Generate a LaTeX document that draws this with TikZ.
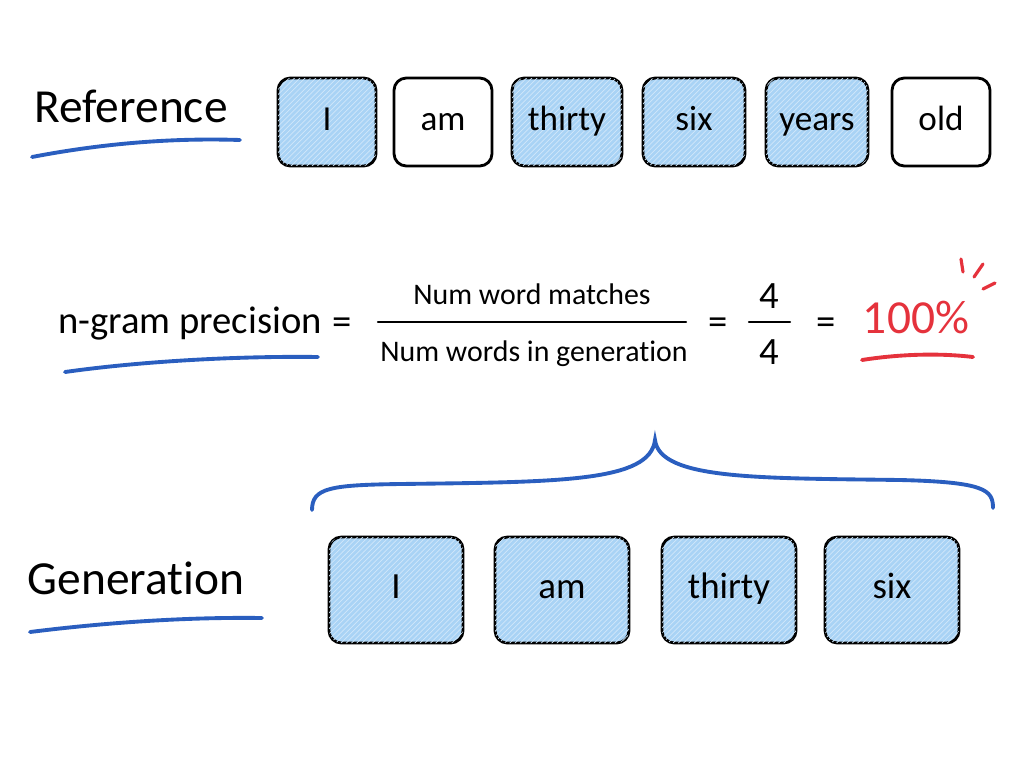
\documentclass[tikz,border=0pt]{standalone}
\usepackage{fontspec}
\setmainfont{Carlito}[Ligatures=NoCommon]
\usetikzlibrary{positioning,patterns}
\definecolor{wordblue}{HTML}{A9D3F5}
\definecolor{penblue}{HTML}{2A5EBF}
\definecolor{penred}{HTML}{E5323C}

\begin{document}
\begin{tikzpicture}[
            x=0.02cm, y=-0.02cm,
            wordbox/.style={draw, line width=1.6pt, rounded corners=7pt, minimum width=1.96cm, minimum height=1.76cm, text height=14pt, text depth=4pt, font=\fontsize{20}{24}\selectfont},
            match/.style={fill=wordblue, postaction={pattern=north east lines, pattern color=white!45!wordblue}},
            genbox/.style={wordbox, match, minimum width=2.68cm, minimum height=2.12cm, font=\fontsize{21}{25}\selectfont},
            title/.style={font=\fontsize{27}{31}\selectfont},
            formula/.style={font=\fontsize{17}{20}\selectfont},
            bigsym/.style={font=\fontsize{22}{26}\selectfont},
            pen/.style={line width=2.2pt, line cap=round, penblue}
            ]
        \fill[white] (0,0) rectangle (1024,768);
        \useasboundingbox (0,0) rectangle (1024,768);

        % reference sentence
        \node[title] (reflabel) at (131,106) {Reference};
        \draw[pen] (32,157) .. controls (110,142) and (180,138) .. (240,140);
        \node[wordbox, match] (r1) at (327,122) {I};
        \node[wordbox] (r2) at (443,122) {am};
        \node[wordbox, match, minimum width=2.2cm] (r3) at (567,122) {thirty};
        \node[wordbox, match, minimum width=2.04cm] (r4) at (694,122) {six};
        \node[wordbox, match, minimum width=2.04cm] (r5) at (817,122) {years};
        \node[wordbox] (r6) at (941,122) {old};

        % precision formula
        \node[bigsym] (ngram) at (190,324) {n-gram precision};
        \draw[pen] (65,372) .. controls (150,360) and (250,356) .. (318,357);
        \node[bigsym] (eq1) at (342,326) {=};
        \node[formula] (num) at (532,294) {Num word matches};
        \node[formula] (den) at (534,354) {Num words in generation};
        \draw[line width=1.3pt, line cap=round] (378,322) -- (686,322);
        \node[bigsym] (eq2) at (718,326) {=};
        \node[bigsym] (n4) at (769,296) {4};
        \node[bigsym] (d4) at (769,352) {4};
        \draw[line width=1.3pt, line cap=round] (749,322) -- (790,322);
        \node[bigsym] (eq3) at (826,326) {=};
        \node[penred, font=\fontsize{27}{30}\selectfont] (pct) at (916,318) {100\%};
        \draw[line width=2.2pt, line cap=round, penred] (862,360) .. controls (900,354) and (940,353) .. (973,357);
        \draw[line width=1.8pt, line cap=round, penred] (961,259) -- (963,272);
        \draw[line width=1.8pt, line cap=round, penred] (983,264) -- (974,277);
        \draw[line width=1.8pt, line cap=round, penred] (995,283) -- (983,289);

        % brace over the generation
        \draw[pen] (312,510) .. controls (312,488) and (330,485) .. (400,484)
            .. controls (560,482) and (650,482) .. (655,440)
            .. controls (660,480) and (760,478) .. (900,480)
            .. controls (985,482) and (993,490) .. (993,508);

        % generated sentence
        \node[title] (genlabel) at (136,578) {Generation};
        \draw[pen] (30,632) .. controls (110,622) and (190,617) .. (262,618);
        \node[genbox] (g1) at (396,590) {I};
        \node[genbox] (g2) at (562,590) {am};
        \node[genbox] (g3) at (729,590) {thirty};
        \node[genbox] (g4) at (892,590) {six};
\end{tikzpicture}
\end{document}
